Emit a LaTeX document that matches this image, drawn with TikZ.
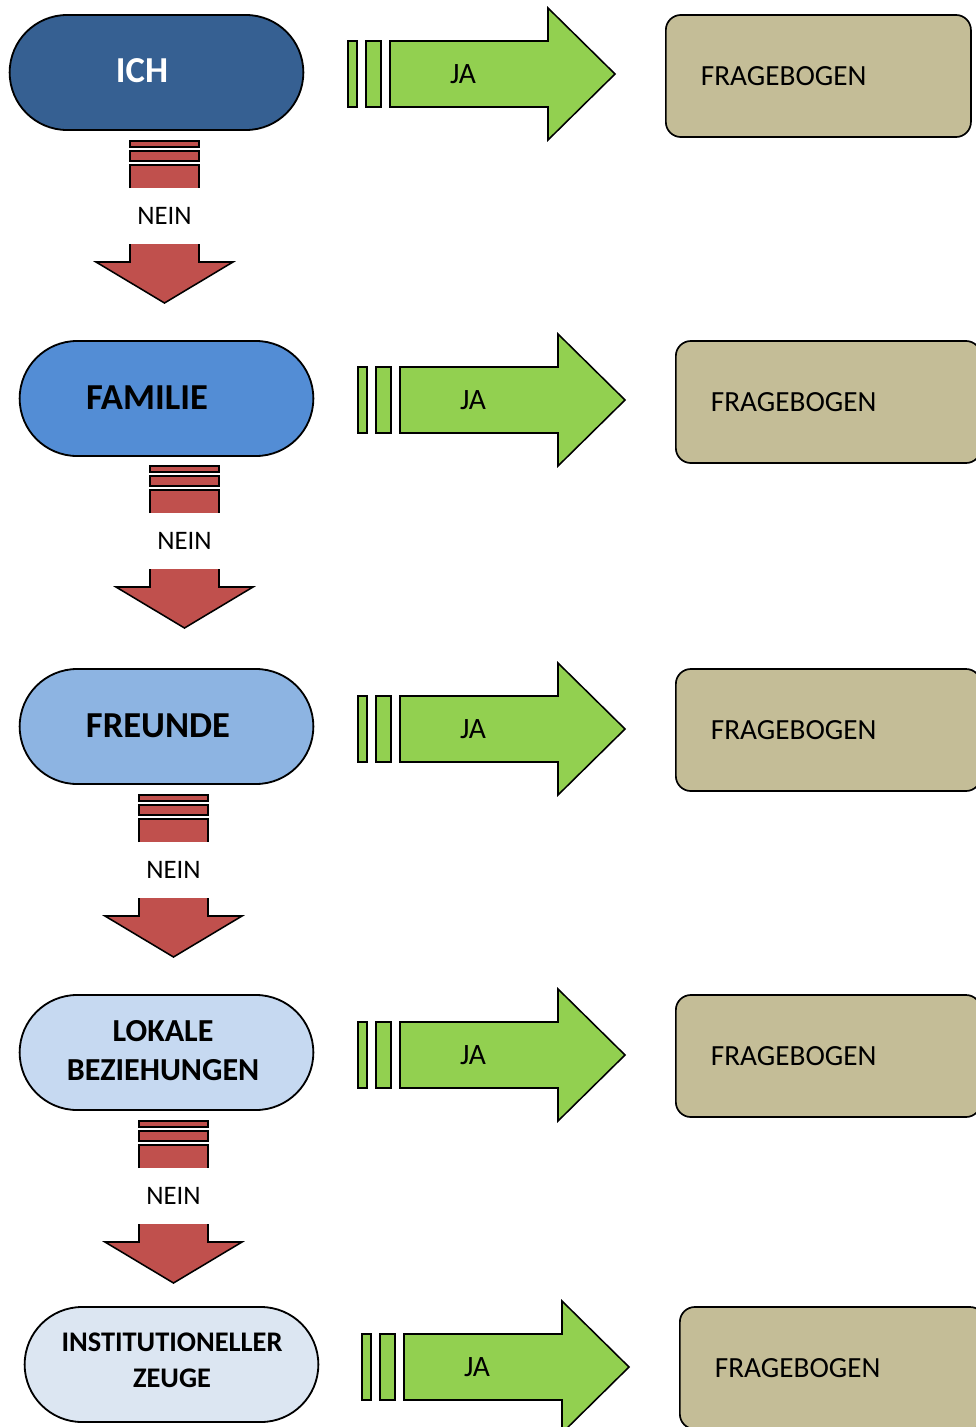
\documentclass[tikz,border=0pt]{standalone}
\usepackage{fontspec}
\setmainfont{Carlito}
\usetikzlibrary{shapes.misc}
\definecolor{flowIch}{HTML}{366092}
\definecolor{flowFamilie}{HTML}{538DD5}
\definecolor{flowFreunde}{HTML}{8DB4E2}
\definecolor{flowLokal}{HTML}{C6D9F1}
\definecolor{flowInst}{HTML}{DCE6F2}
\definecolor{flowGreen}{HTML}{92D050}
\definecolor{flowRed}{HTML}{C0504D}
\definecolor{flowKhaki}{HTML}{C4BD97}
\tikzset{
  every picture/.style={text=black},
  flow stadium/.style={rounded rectangle, draw=black, line width=1.3pt,
    minimum width=7.575cm, minimum height=2.875cm},
  flow title/.style={font=\bfseries\fontsize{26}{27.7}\selectfont, align=center},
  flow form/.style={draw=black, line width=1.2pt, rounded corners=0.375cm,
    fill=flowKhaki, anchor=west, minimum width=7.625cm, minimum height=3.05cm,
    inner xsep=0.875cm, text width=5.875cm, align=left,
    font=\fontsize{20.8}{24}\selectfont},
  flow yes/.style={draw=black, line width=1.1pt, fill=flowGreen},
  flow no/.style={draw=black, line width=1.1pt},
  flow yes label/.style={font=\fontsize{21}{24}\selectfont},
  flow no label/.style={font=\fontsize{19}{22}\selectfont}
}

% green "JA" arrow with two stripes: name, left x, middle y
\newcommand{\jaArrow}[3]{%
  \filldraw[flow yes] (#2,{#3-33}) rectangle ({#2+9},{#3+33});
  \filldraw[flow yes] ({#2+18},{#3-33}) rectangle ({#2+33},{#3+33});
  \filldraw[flow yes] ({#2+42},{#3-33}) -- ({#2+200},{#3-33}) -- ({#2+200},{#3-66})
    -- ({#2+267},#3) -- ({#2+200},{#3+66}) -- ({#2+200},{#3+33})
    -- ({#2+42},{#3+33}) -- cycle;
  \node[flow yes label] (#1) at ({#2+115},#3) {JA};
}

% red "NEIN" arrow with three stripes: name, middle x, top y
\newcommand{\neinArrow}[3]{%
  \filldraw[flow no, fill=flowRed] ({#2-34.5},#3) rectangle ({#2+34.5},{#3+6});
  \filldraw[flow no, fill=flowRed] ({#2-34.5},{#3+10}) rectangle ({#2+34.5},{#3+20});
  \fill[flowRed] ({#2-34.5},{#3+24}) rectangle ({#2+34.5},{#3+47});
  \draw[flow no] ({#2-34.5},{#3+47}) |- ({#2+34.5},{#3+24}) -- ({#2+34.5},{#3+47});
  \node[flow no label] (#1) at (#2,{#3+75}) {NEIN};
  \fill[flowRed] ({#2-34.5},{#3+103}) -- ({#2-34.5},{#3+121}) -- ({#2-68.5},{#3+121})
    -- (#2,{#3+162}) -- ({#2+68.5},{#3+121}) -- ({#2+34.5},{#3+121})
    -- ({#2+34.5},{#3+103}) -- cycle;
  \draw[flow no] ({#2-34.5},{#3+103}) -- ({#2-34.5},{#3+121}) -- ({#2-68.5},{#3+121})
    -- (#2,{#3+162}) -- ({#2+68.5},{#3+121}) -- ({#2+34.5},{#3+121})
    -- ({#2+34.5},{#3+103});
}

\begin{document}
\begin{tikzpicture}[x=0.025cm,y=-0.025cm]
  \useasboundingbox (0,0) rectangle (975,1427);

  % left column: who is asked
  \node[flow stadium, fill=flowIch] (ich) at (156.5,72.5) {};
  \node[flow title, text=white] (ichtext) at (142,71) {ICH};
  \node[flow stadium, fill=flowFamilie] (familie) at (166.5,398.5) {};
  \node[flow title] (familietext) at (147,398) {FAMILIE};
  \node[flow stadium, fill=flowFreunde] (freunde) at (166.5,726.5) {};
  \node[flow title] (freundetext) at (158,726) {FREUNDE};
  \node[flow stadium, fill=flowLokal] (lokal) at (166.5,1052.5) {};
  \node[flow title, font=\bfseries\fontsize{22.8}{27.7}\selectfont] (lokaltext) at (163,1051)
    {LOKALE\\BEZIEHUNGEN};
  \node[flow stadium, fill=flowInst] (inst) at (171.5,1364.5) {};
  \node[flow title, font=\bfseries\fontsize{20.2}{25.6}\selectfont] (insttext) at (172,1360)
    {INSTITUTIONELLER\\ZEUGE};

  % NEIN steps down the column
  \neinArrow{nein1}{164.5}{141}
  \neinArrow{nein2}{184.5}{466}
  \neinArrow{nein3}{173.5}{795}
  \neinArrow{nein4}{173.5}{1121}

  % JA arrows to the forms
  \jaArrow{ja1}{348}{74}
  \jaArrow{ja2}{358}{400}
  \jaArrow{ja3}{358}{729}
  \jaArrow{ja4}{358}{1055}
  \jaArrow{ja5}{362}{1367}

  % right column: forms
  \node[flow form] (form1) at (665,76) {FRAGEBOGEN};
  \node[flow form] (form2) at (675,402) {FRAGEBOGEN};
  \node[flow form] (form3) at (675,730) {FRAGEBOGEN};
  \node[flow form] (form4) at (675,1056) {FRAGEBOGEN};
  \node[flow form] (form5) at (679,1368) {FRAGEBOGEN};
\end{tikzpicture}
\end{document}
